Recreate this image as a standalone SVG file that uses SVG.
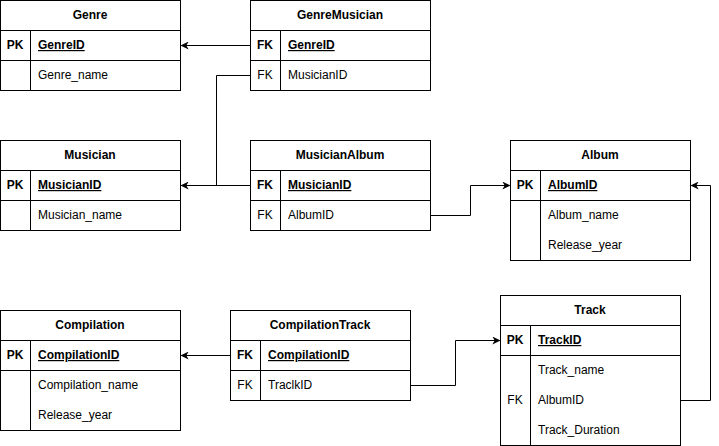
<svg xmlns="http://www.w3.org/2000/svg" width="719" height="446" viewBox="0 0 719 446">
<style>
rect.t{fill:#fff;stroke:#000;stroke-width:1}
line.d{stroke:#000;stroke-width:1}
text{font-family:"Liberation Sans",Arial,sans-serif;font-size:12px;fill:#000}
.h{font-weight:bold;text-anchor:middle}
.k{text-anchor:middle}
.kb{text-anchor:middle;font-weight:bold}
.u{text-decoration:underline;font-weight:bold}
.c{fill:none;stroke:#000;stroke-width:1}
</style>
<defs>
<marker id="arr" viewBox="0 0 10 10" refX="9" refY="5" markerWidth="8" markerHeight="8" markerUnits="userSpaceOnUse" orient="auto">
<path d="M0,0 L10,5 L0,10 L3,5 Z" fill="#000"/>
</marker>
</defs>
<rect width="719" height="446" fill="#fff"/>
<g id="connectors">
<path class="c" d="M250.5,45.5 H181.5" marker-end="url(#arr)"/>
<path class="c" d="M250.5,75.5 H216.5 V185.5 H181.5" marker-end="url(#arr)"/>
<path class="c" d="M250.5,185.5 H181.5"/>
<path class="c" d="M430.5,215.5 H470.5 V185.5 H509.5" marker-end="url(#arr)"/>
<path class="c" d="M680.5,400.5 H710.5 V185.5 H691.5" marker-end="url(#arr)"/>
<path class="c" d="M410.5,385.5 H455.5 V340.5 H499.5" marker-end="url(#arr)"/>
<path class="c" d="M230.5,355.5 H181.5" marker-end="url(#arr)"/>
</g>
<g id="Genre">
<rect class="t" x="0.5" y="0.5" width="180" height="90"/>
<line class="d" x1="0.5" y1="30.5" x2="180.5" y2="30.5"/>
<line class="d" x1="0.5" y1="60.5" x2="180.5" y2="60.5"/>
<line class="d" x1="30.5" y1="30.5" x2="30.5" y2="90.5"/>
<text class="h" x="90" y="19">Genre</text>
<text class="kb" x="15" y="49">PK</text>
<text class="u" x="38" y="49">GenreID</text>
<text x="38" y="79">Genre_name</text>
</g>
<g id="GenreMusician">
<rect class="t" x="250.5" y="0.5" width="180" height="90"/>
<line class="d" x1="250.5" y1="30.5" x2="430.5" y2="30.5"/>
<line class="d" x1="250.5" y1="60.5" x2="430.5" y2="60.5"/>
<line class="d" x1="280.5" y1="30.5" x2="280.5" y2="90.5"/>
<text class="h" x="340" y="19">GenreMusician</text>
<text class="kb" x="265" y="49">FK</text>
<text class="u" x="288" y="49">GenreID</text>
<text class="k" x="265" y="79">FK</text>
<text x="288" y="79">MusicianID</text>
</g>
<g id="Musician">
<rect class="t" x="0.5" y="140.5" width="180" height="90"/>
<line class="d" x1="0.5" y1="170.5" x2="180.5" y2="170.5"/>
<line class="d" x1="0.5" y1="200.5" x2="180.5" y2="200.5"/>
<line class="d" x1="30.5" y1="170.5" x2="30.5" y2="230.5"/>
<text class="h" x="90" y="159">Musician</text>
<text class="kb" x="15" y="189">PK</text>
<text class="u" x="38" y="189">MusicianID</text>
<text x="38" y="219">Musician_name</text>
</g>
<g id="MusicianAlbum">
<rect class="t" x="250.5" y="140.5" width="180" height="90"/>
<line class="d" x1="250.5" y1="170.5" x2="430.5" y2="170.5"/>
<line class="d" x1="250.5" y1="200.5" x2="430.5" y2="200.5"/>
<line class="d" x1="280.5" y1="170.5" x2="280.5" y2="230.5"/>
<text class="h" x="340" y="159">MusicianAlbum</text>
<text class="kb" x="265" y="189">FK</text>
<text class="u" x="288" y="189">MusicianID</text>
<text class="k" x="265" y="219">FK</text>
<text x="288" y="219">AlbumID</text>
</g>
<g id="Album">
<rect class="t" x="510.5" y="140.5" width="180" height="120"/>
<line class="d" x1="510.5" y1="170.5" x2="690.5" y2="170.5"/>
<line class="d" x1="510.5" y1="200.5" x2="690.5" y2="200.5"/>
<line class="d" x1="540.5" y1="170.5" x2="540.5" y2="260.5"/>
<text class="h" x="600" y="159">Album</text>
<text class="kb" x="525" y="189">PK</text>
<text class="u" x="548" y="189">AlbumID</text>
<text x="548" y="219">Album_name</text>
<text x="548" y="249">Release_year</text>
</g>
<g id="Compilation">
<rect class="t" x="0.5" y="310.5" width="180" height="120"/>
<line class="d" x1="0.5" y1="340.5" x2="180.5" y2="340.5"/>
<line class="d" x1="0.5" y1="370.5" x2="180.5" y2="370.5"/>
<line class="d" x1="30.5" y1="340.5" x2="30.5" y2="430.5"/>
<text class="h" x="90" y="329">Compilation</text>
<text class="kb" x="15" y="359">PK</text>
<text class="u" x="38" y="359">CompilationID</text>
<text x="38" y="389">Compilation_name</text>
<text x="38" y="419">Release_year</text>
</g>
<g id="CompilationTrack">
<rect class="t" x="230.5" y="310.5" width="180" height="90"/>
<line class="d" x1="230.5" y1="340.5" x2="410.5" y2="340.5"/>
<line class="d" x1="230.5" y1="370.5" x2="410.5" y2="370.5"/>
<line class="d" x1="260.5" y1="340.5" x2="260.5" y2="400.5"/>
<text class="h" x="320" y="329">CompilationTrack</text>
<text class="kb" x="245" y="359">FK</text>
<text class="u" x="268" y="359">CompilationID</text>
<text class="k" x="245" y="389">FK</text>
<text x="268" y="389">TraclkID</text>
</g>
<g id="Track">
<rect class="t" x="500.5" y="295.5" width="180" height="150"/>
<line class="d" x1="500.5" y1="325.5" x2="680.5" y2="325.5"/>
<line class="d" x1="500.5" y1="355.5" x2="680.5" y2="355.5"/>
<line class="d" x1="530.5" y1="325.5" x2="530.5" y2="445.5"/>
<text class="h" x="590" y="314">Track</text>
<text class="kb" x="515" y="344">PK</text>
<text class="u" x="538" y="344">TrackID</text>
<text x="538" y="374">Track_name</text>
<text class="k" x="515" y="404">FK</text>
<text x="538" y="404">AlbumID</text>
<text x="538" y="434">Track_Duration</text>
</g>
</svg>
